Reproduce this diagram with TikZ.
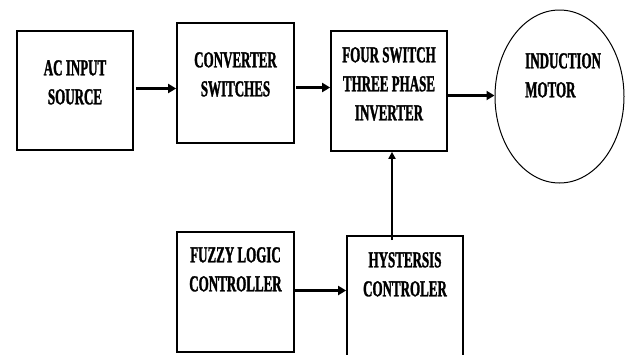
\documentclass[tikz,border=0pt]{standalone}
\usepackage{fontspec}
\setmainfont{Liberation Serif}[
  UprightFont=*-Bold,
  BoldFont=*-Bold,
  FakeStretch=0.57,
  FakeBold=1.3]
\usetikzlibrary{shapes.geometric,arrows.meta}
\begin{document}
\begin{tikzpicture}[x=1pt,y=-1pt,
  blockbox/.style={draw,line width=1.7pt,rectangle,inner sep=0pt},
  label text/.style={inner sep=0pt,align=center,font=\fontsize{22.8}{29}\selectfont},
  flow/.style={line width=3pt,-{Triangle[length=8pt,width=9pt]}},
  feedback/.style={line width=1.8pt,-{Triangle[length=7pt,width=7pt]}}]
\useasboundingbox (0,0) rectangle (635,354);
\clip (0,0) rectangle (635,354);

% blocks
\node[blockbox,minimum width=116pt,minimum height=119pt] (ac)   at (75,90.5)  {};
\node[blockbox,minimum width=117pt,minimum height=120pt] (conv) at (235.5,83) {};
\node[blockbox,minimum width=116pt,minimum height=120pt] (inv)  at (389,91)   {};
\node[draw,line width=1pt,ellipse,inner sep=0pt,minimum width=129pt,minimum height=173pt] (motor) at (559.5,96.5) {};
\node[blockbox,minimum width=117pt,minimum height=120pt] (fuzzy) at (235.5,292) {};
\node[blockbox,minimum width=116pt,minimum height=124pt] (hyst)  at (405,298)   {};

% block texts
\node[label text,anchor=north] (acT)   at (75,60)    {AC INPUT\\SOURCE};
\node[label text,anchor=north] (convT) at (235.5,52) {CONVERTER\\SWITCHES};
\node[label text,anchor=north] (invT)  at (389,47)   {FOUR SWITCH\\THREE PHASE\\INVERTER};
\node[label text,anchor=north west,align=left] (motorT) at (525,53) {INDUCTION\\MOTOR};
\node[label text,anchor=north] (fuzzyT) at (235.5,247) {FUZZY LOGIC\\CONTROLLER};
\node[label text,anchor=north] (hystT)  at (405,252)   {HYSTERSIS\\CONTROLER};

% signal flow
\coordinate (a1) at (136,88.5);
\coordinate (a2) at (296,87.5);
\coordinate (a3) at (448,95.5);
\coordinate (a4) at (295,290.5);
\coordinate (a5) at (392,240);
\draw[flow] (a1) -- (a1 -| conv.west);
\draw[flow] (a2) -- (a2 -| inv.west);
\draw[flow] (a3) -- (a3 -| motor.west);
\draw[flow] (a4) -- (a4 -| hyst.west);
\draw[feedback] (a5) -- (a5 |- inv.south);
\end{tikzpicture}
\end{document}
